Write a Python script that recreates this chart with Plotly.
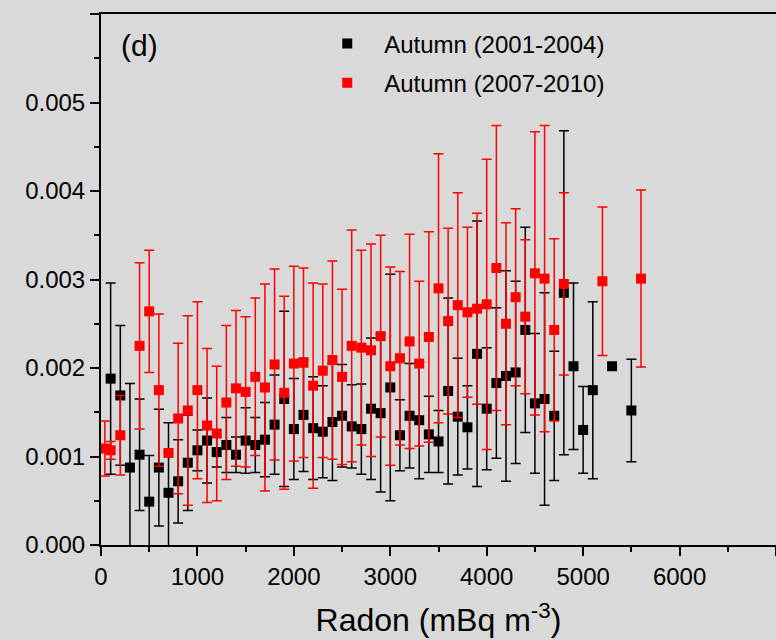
import plotly.graph_objects as go

# Autumn (2001-2004) - black
x_b = [100, 200, 300, 400, 500, 600, 700, 800, 900, 1000,
       1100, 1200, 1300, 1400, 1500, 1600, 1700, 1800, 1900, 2000,
       2100, 2200, 2300, 2400, 2500, 2600, 2700, 2800, 2900, 3000,
       3100, 3200, 3300, 3400, 3500, 3600, 3700, 3800, 3900, 4000,
       4100, 4200, 4300, 4400, 4500, 4600, 4700, 4800, 4900, 5000,
       5100, 5300, 5500]
y_b = [0.00188, 0.00169, 0.000875, 0.00102, 0.00049, 0.000875, 0.00059, 0.00072, 0.00093, 0.00107,
       0.00118, 0.00105, 0.00113, 0.00102, 0.00118, 0.00113, 0.00119, 0.00136, 0.00165, 0.00131,
       0.00147, 0.00132, 0.00128, 0.00139, 0.00146, 0.00134, 0.00131, 0.00154, 0.00149, 0.00178,
       0.00124, 0.00146, 0.00141, 0.00125, 0.00117, 0.00174, 0.00145, 0.00133, 0.00216, 0.00154,
       0.00183, 0.00191, 0.00195, 0.00243, 0.00160, 0.00165, 0.00146, 0.00285, 0.00202, 0.00130,
       0.00175, 0.00202, 0.00152]
e_b = [0.00108, 0.00079, 0.00095, 0.00063, 0.00052, 0.00066, 0.00079, 0.00047, 0.00054, 0.00023,
       0.00048, 0.00017, 0.00031, 0.00020, 0.00037, 0.00031, 0.00042, 0.00056, 0.00099, 0.00057,
       0.00064, 0.00058, 0.00052, 0.00066, 0.00058, 0.00047, 0.00051, 0.00080, 0.00089, 0.00128,
       0.00040, 0.00059, 0.00066, 0.00043, 0.00035, 0.00105, 0.00066, 0.00047, 0.00150, 0.00069,
       0.00085, 0.00119, 0.00103, 0.00116, 0.00079, 0.00120, 0.00073, 0.00183, 0.00094, 0.00049,
       0.00100, 0.0, 0.00058]

# Autumn (2007-2010) - red
x_r = [40, 100, 200, 400, 500, 600, 700, 800, 900, 1000,
       1100, 1200, 1300, 1400, 1500, 1600, 1700, 1800, 1900, 2000,
       2100, 2200, 2300, 2400, 2500, 2600, 2700, 2800, 2900, 3000,
       3100, 3200, 3300, 3400, 3500, 3600, 3700, 3800, 3900, 4000,
       4100, 4200, 4300, 4400, 4500, 4600, 4700, 4800,
       5200, 5600]
y_r = [0.00109, 0.00107, 0.00124, 0.00225, 0.00264, 0.00175, 0.00104, 0.00143, 0.00152, 0.00175,
       0.00135, 0.00126, 0.00161, 0.00177, 0.00173, 0.00190, 0.00178, 0.00204, 0.00172, 0.00205,
       0.00206, 0.00180, 0.00197, 0.00209, 0.00190, 0.00225, 0.00223, 0.00220, 0.00236, 0.00202,
       0.00211, 0.00230, 0.00205, 0.00235, 0.00290, 0.00253, 0.00271, 0.00263, 0.00267, 0.00272,
       0.00313, 0.00250, 0.00280, 0.00258, 0.00307, 0.00301, 0.00243, 0.00295,
       0.00298, 0.00301]
e_r = [0.00031, 0.00010, 0.00045, 0.00094, 0.00069, 0.00086, 0.0, 0.00085, 0.00107, 0.00100,
       0.00087, 0.00076, 0.00087, 0.00088, 0.00085, 0.00089, 0.00117, 0.00108, 0.00109, 0.00110,
       0.00107, 0.00116, 0.00098, 0.00112, 0.00099, 0.00131, 0.00110, 0.00120, 0.00114, 0.00112,
       0.00098, 0.00121, 0.00093, 0.00119, 0.00152, 0.00105, 0.00127, 0.00096, 0.00108, 0.00164,
       0.00161, 0.00114, 0.00100, 0.00087, 0.00160, 0.00173, 0.00103, 0.00103,
       0.00084, 0.00100]

x_ticks = [0, 1000, 2000, 3000, 4000, 5000, 6000, 7000]
x_labels = ["0", "1000", "2000", "3000", "4000", "5000", "6000", ""]
y_ticks = [0.000, 0.001, 0.002, 0.003, 0.004, 0.005, 0.006]
y_labels = ["0.000", "0.001", "0.002", "0.003", "0.004", "0.005", ""]

BG = "#d9d9d9"
FONT = "Liberation Sans, Arial, sans-serif"

fig = go.Figure()
fig.add_trace(go.Scatter(
    x=x_b, y=y_b, mode="markers", name="Autumn (2001-2004)", legendgroup="a",
    marker=dict(symbol="square", size=10, color="black", line=dict(width=0)),
    error_y=dict(type="data", array=e_b, visible=True, color="black", thickness=1.5, width=5),
    cliponaxis=True,
))
fig.add_trace(go.Scatter(
    x=x_r, y=y_r, mode="markers", name="Autumn (2007-2010)", legendgroup="b",
    marker=dict(symbol="square", size=10, color="#ff0000", line=dict(width=0)),
    error_y=dict(type="data", array=e_r, visible=True, color="#ff0000", thickness=1.5, width=5),
    cliponaxis=True,
))

fig.add_annotation(text="(d)", x=0.026, y=0.976, xref="paper", yref="paper",
                   showarrow=False, font=dict(size=30, color="black", family=FONT))

fig.update_layout(
    width=776, height=640,
    margin=dict(l=101, r=0, t=14, b=95),
    paper_bgcolor=BG, plot_bgcolor=BG,
    font=dict(family=FONT, color="black", size=24),
    showlegend=True,
    legend=dict(x=0.31, y=0.986, xanchor="left", yanchor="top",
                bgcolor="rgba(0,0,0,0)", font=dict(size=24, family=FONT),
                itemwidth=64, tracegroupgap=5, traceorder="grouped"),
    xaxis=dict(
        range=[0, 7000], tickvals=x_ticks, ticktext=x_labels,
        showgrid=False, zeroline=False,
        showline=True, linecolor="black", linewidth=2, mirror=True,
        ticks="outside", ticklen=9, tickwidth=2, tickcolor="black",
        minor=dict(dtick=500, tick0=0, ticks="outside", ticklen=5, tickwidth=2, tickcolor="black"),
        tickfont=dict(size=24, family=FONT),
        title=dict(text="Radon (mBq m<sup>-3</sup>)", font=dict(size=32, family=FONT), standoff=20),
    ),
    yaxis=dict(
        range=[0, 0.006], tickvals=y_ticks, ticktext=y_labels,
        showgrid=False, zeroline=False,
        showline=True, linecolor="black", linewidth=2,
        ticks="outside", ticklen=9, tickwidth=2, tickcolor="black",
        minor=dict(dtick=0.0005, tick0=0, ticks="outside", ticklen=5, tickwidth=2, tickcolor="black"),
        tickfont=dict(size=24, family=FONT),
    ),
)

fig.write_html("out.html")
